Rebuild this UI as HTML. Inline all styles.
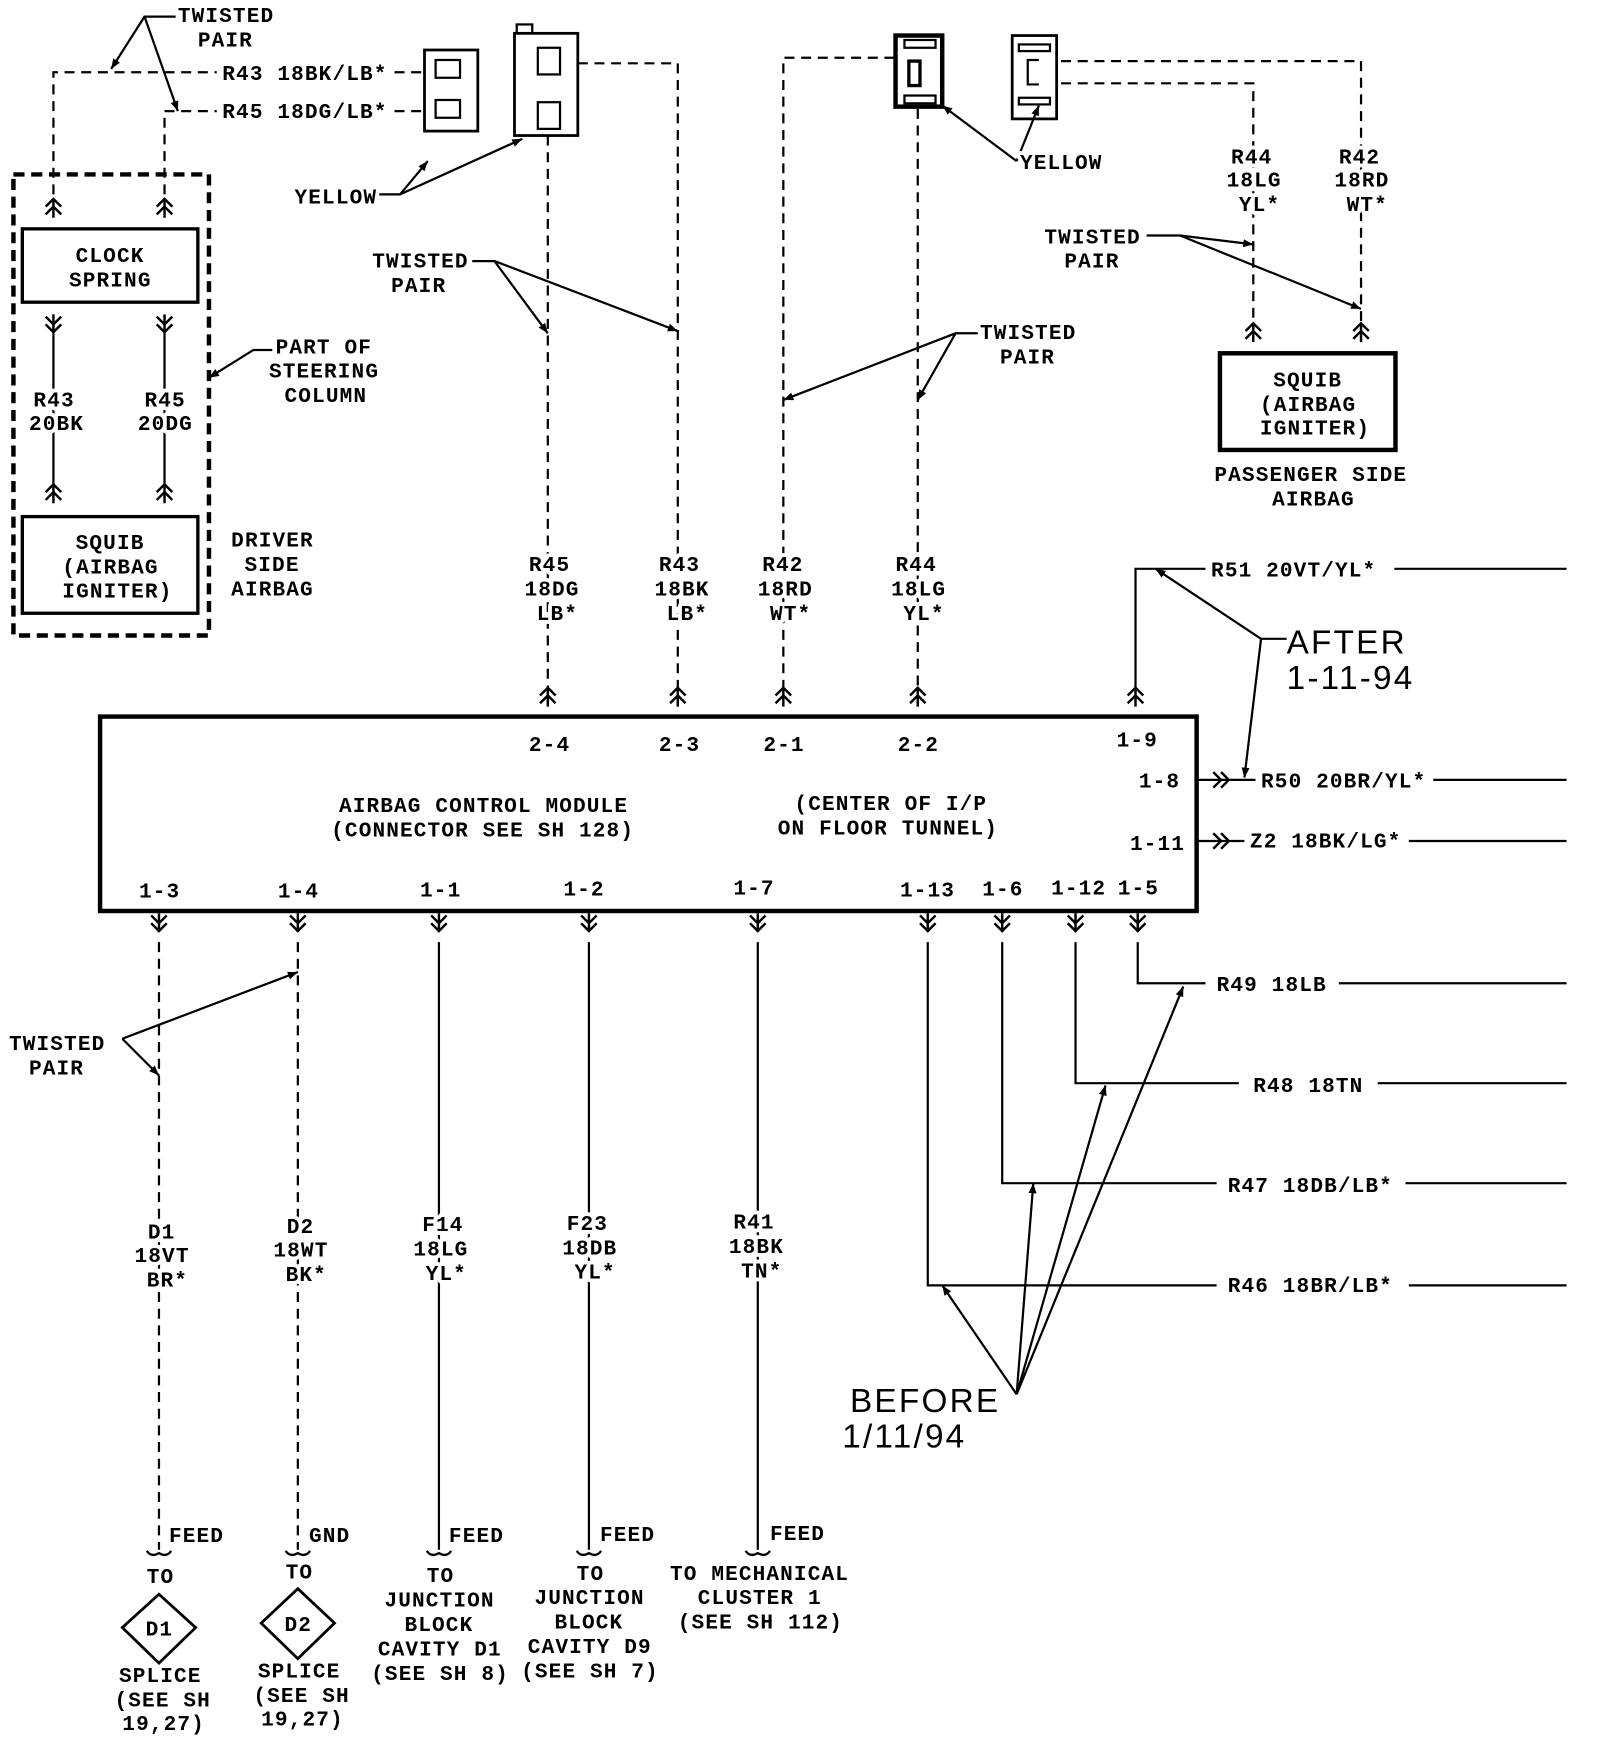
<!DOCTYPE html>
<html><head><meta charset="utf-8"><style>
html,body{margin:0;padding:0;background:#fff;}
svg{display:block;}
text{font-family:"Liberation Mono",monospace;font-weight:bold;font-size:19px;fill:#000;letter-spacing:1px;paint-order:stroke;stroke:#fff;stroke-width:7px;stroke-linejoin:round;}
.big{font-family:"Liberation Sans",sans-serif;font-weight:normal;font-size:30px;letter-spacing:2px;}
</style></head><body>
<svg width="1600" height="1752" viewBox="0 0 1440 1577" xmlns="http://www.w3.org/2000/svg">
<defs>
<marker id="a" viewBox="0 0 10 10" refX="10" refY="5" markerWidth="9" markerHeight="9" orient="auto" markerUnits="userSpaceOnUse"><path d="M0,1 L10,5 L0,9 z" fill="#000"/></marker>
<symbol id="up" overflow="visible"><path d="M-7,8 L0,1 L7,8 M-7,15 L0,8 L7,15 M0,1 L0,18" fill="none" stroke="#000" stroke-width="2.2"/></symbol>
<symbol id="dn" overflow="visible"><path d="M-7,2 L0,9 L7,2 M-7,9 L0,16 L7,9 M0,0 L0,17" fill="none" stroke="#000" stroke-width="2.2"/></symbol>
<symbol id="rt" overflow="visible"><path d="M0,-7 L7,0 L0,7 M7,-7 L14,0 L7,7" fill="none" stroke="#000" stroke-width="2.2"/></symbol>
</defs>
<g fill="none" stroke="#000" stroke-width="2">
<g stroke-dasharray="9,6">
<path d="M48,175 V65 H195"/><path d="M355,65 H385"/>
<path d="M148,175 V100 H195"/><path d="M355,100 H385"/>
<path d="M520,57 H610 V620"/><path d="M493,122 V620"/>
<path d="M805,52 H705 V620"/><path d="M826,98 V620"/>
<path d="M955,55 H1225 V290"/><path d="M955,75 H1128 V290"/>
<path d="M143,848 V1395"/><path d="M268,848 V1395"/>
</g>
<rect x="12" y="157" width="176" height="415" stroke-width="4" stroke-dasharray="10,6"/>
<rect x="20" y="206" width="158" height="66" stroke-width="3"/>
<rect x="20" y="465" width="158" height="87" stroke-width="3"/>
<path d="M48,300 V440 M148,300 V440"/>
<rect x="382" y="45" width="48" height="73" stroke-width="2.5"/>
<rect x="392" y="54" width="22" height="16"/><rect x="392" y="90" width="22" height="16"/>
<rect x="463" y="30" width="57" height="92" stroke-width="2.5"/>
<rect x="465" y="22" width="14" height="8"/>
<rect x="484" y="43" width="20" height="24"/><rect x="484" y="92" width="20" height="24"/>
<rect x="806" y="32" width="42" height="64" stroke-width="4"/>
<rect x="814" y="36" width="28" height="7"/><rect x="814" y="86" width="28" height="7"/>
<rect x="818" y="55" width="10" height="22" stroke-width="3"/>
<rect x="911" y="32" width="40" height="75" stroke-width="2.5"/>
<rect x="917" y="40" width="28" height="6"/><rect x="917" y="88" width="28" height="6"/>
<path d="M935,54 H925 V76 H935"/>
<rect x="1098" y="318" width="158" height="87" stroke-width="4"/>
<rect x="90" y="645" width="987" height="175" stroke-width="4"/>
<path d="M1022,620 V512 H1085 M1255,512 H1410"/>
<path d="M1077,702 H1130 M1290,702 H1410"/>
<path d="M1077,757 H1120 M1268,757 H1410"/>
<path d="M395,848 V1395 M530,848 V1395 M682,848 V1395"/>
<path d="M1024,848 V885 H1085 M1205,885 H1410"/>
<path d="M968,848 V975 H1115 M1240,975 H1410"/>
<path d="M902,848 V1065 H1095 M1265,1065 H1410"/>
<path d="M835,848 V1157 H1095 M1268,1157 H1410"/>
<path d="M132,1396 q4,6 11,2 q7,4 11,-2 M257,1396 q4,6 11,2 q7,4 11,-2 M384,1396 q4,6 11,2 q7,4 11,-2 M519,1396 q4,6 11,2 q7,4 11,-2 M671,1396 q4,6 11,2 q7,4 11,-2"/>
<path d="M143,1435 L176,1465 L143,1497 L110,1465 Z M268,1430 L301,1461 L268,1493 L235,1461 Z" stroke-width="2.5"/>
<g marker-end="url(#a)" stroke-width="2">
<path d="M158,15 H130 L100,62"/><path d="M130,15 L160,100"/>
<path d="M340,175 H360 L385,145"/><path d="M360,175 L470,125"/>
<path d="M425,235 H445 L493,300"/><path d="M445,235 L610,298"/>
<path d="M880,300 H860 L705,360"/><path d="M860,300 L826,360"/>
<path d="M915,145 L848,95"/><path d="M915,145 L935,95"/>
<path d="M1032,212 H1062 L1128,220"/><path d="M1062,212 L1225,278"/>
<path d="M245,315 H228 L188,340"/>
<path d="M1158,575 H1135 L1040,512"/><path d="M1135,575 L1120,700"/>
<path d="M110,935 L268,875"/><path d="M110,935 L143,968"/>
<path d="M915,1255 L848,1157"/><path d="M915,1255 L930,1065"/><path d="M915,1255 L995,977"/><path d="M915,1255 L1065,888"/>
</g>
</g>
<use href="#up" x="48" y="178"/><use href="#up" x="148" y="178"/>
<use href="#dn" x="48" y="283"/><use href="#dn" x="148" y="283"/>
<use href="#up" x="48" y="435"/><use href="#up" x="148" y="435"/>
<use href="#up" x="1128" y="290"/><use href="#up" x="1225" y="290"/>
<use href="#up" x="493" y="618"/><use href="#up" x="610" y="618"/><use href="#up" x="705" y="618"/><use href="#up" x="826" y="618"/><use href="#up" x="1022" y="618"/>
<use href="#dn" x="143" y="822"/><use href="#dn" x="268" y="822"/><use href="#dn" x="395" y="822"/><use href="#dn" x="530" y="822"/><use href="#dn" x="682" y="822"/><use href="#dn" x="835" y="822"/><use href="#dn" x="902" y="822"/><use href="#dn" x="968" y="822"/><use href="#dn" x="1024" y="822"/>
<use href="#rt" x="1092" y="702"/><use href="#rt" x="1092" y="757"/>
<text x="160" y="20">TWISTED</text><text x="178" y="42">PAIR</text>
<text x="200" y="72">R43 18BK/LB*</text><text x="200" y="106">R45 18DG/LB*</text>
<text x="265" y="183">YELLOW</text>
<text x="68" y="236">CLOCK</text><text x="62" y="258">SPRING</text>
<text x="248" y="318">PART OF</text><text x="242" y="340">STEERING</text><text x="256" y="362">COLUMN</text>
<text x="30" y="366">R43</text><text x="26" y="387">20BK</text>
<text x="130" y="366">R45</text><text x="124" y="387">20DG</text>
<text x="68" y="494">SQUIB</text><text x="56" y="516">(AIRBAG</text><text x="56" y="538">IGNITER)</text>
<text x="208" y="492">DRIVER</text><text x="220" y="514">SIDE</text><text x="208" y="536">AIRBAG</text>
<text x="335" y="241">TWISTED</text><text x="352" y="263">PAIR</text>
<text x="918" y="152">YELLOW</text>
<text x="882" y="305">TWISTED</text><text x="900" y="327">PAIR</text>
<text x="940" y="219">TWISTED</text><text x="958" y="241">PAIR</text>
<text x="1108" y="147">R44</text><text x="1104" y="168">18LG</text><text x="1115" y="190">YL*</text>
<text x="1205" y="147">R42</text><text x="1201" y="168">18RD</text><text x="1212" y="190">WT*</text>
<text x="1146" y="348">SQUIB</text><text x="1134" y="370">(AIRBAG</text><text x="1134" y="391">IGNITER)</text>
<text x="1093" y="433">PASSENGER SIDE</text><text x="1145" y="455">AIRBAG</text>
<text x="476" y="514">R45</text><text x="472" y="536">18DG</text><text x="483" y="558">LB*</text>
<text x="593" y="514">R43</text><text x="589" y="536">18BK</text><text x="600" y="558">LB*</text>
<text x="686" y="514">R42</text><text x="682" y="536">18RD</text><text x="693" y="558">WT*</text>
<text x="806" y="514">R44</text><text x="802" y="536">18LG</text><text x="813" y="558">YL*</text>
<text x="1090" y="519">R51 20VT/YL*</text>
<text class="big" x="1158" y="588">AFTER</text><text class="big" x="1158" y="620">1-11-94</text>
<text x="476" y="676">2-4</text><text x="593" y="676">2-3</text><text x="687" y="676">2-1</text><text x="808" y="676">2-2</text><text x="1005" y="672">1-9</text>
<text x="1025" y="709">1-8</text><text x="1135" y="709">R50 20BR/YL*</text>
<text x="1017" y="765">1-11</text><text x="1125" y="763">Z2 18BK/LG*</text>
<text x="305" y="731">AIRBAG CONTROL MODULE</text><text x="298" y="753">(CONNECTOR SEE SH 128)</text>
<text x="715" y="729">(CENTER OF I/P</text><text x="700" y="751">ON FLOOR TUNNEL)</text>
<text x="125" y="808">1-3</text><text x="250" y="808">1-4</text><text x="378" y="807">1-1</text><text x="507" y="806">1-2</text><text x="660" y="805">1-7</text><text x="810" y="807">1-13</text><text x="884" y="806">1-6</text><text x="946" y="805">1-12</text><text x="1006" y="805">1-5</text>
<text x="1095" y="892">R49 18LB</text><text x="1128" y="983">R48 18TN</text><text x="1105" y="1073">R47 18DB/LB*</text><text x="1105" y="1163">R46 18BR/LB*</text>
<text x="8" y="945">TWISTED</text><text x="26" y="967">PAIR</text>
<text x="133" y="1115">D1</text><text x="121" y="1136">18VT</text><text x="132" y="1158">BR*</text>
<text x="258" y="1110">D2</text><text x="246" y="1131">18WT</text><text x="257" y="1153">BK*</text>
<text x="380" y="1108">F14</text><text x="372" y="1130">18LG</text><text x="383" y="1152">YL*</text>
<text x="510" y="1107">F23</text><text x="506" y="1129">18DB</text><text x="517" y="1151">YL*</text>
<text x="660" y="1106">R41</text><text x="656" y="1128">18BK</text><text x="667" y="1150">TN*</text>
<text class="big" x="765" y="1271">BEFORE</text><text class="big" x="758" y="1303">1/11/94</text>
<text x="152" y="1388">FEED</text><text x="278" y="1388">GND</text><text x="404" y="1388">FEED</text><text x="540" y="1387">FEED</text><text x="693" y="1386">FEED</text>
<text x="132" y="1425">TO</text><text x="257" y="1421">TO</text>
<text x="131" y="1472">D1</text><text x="256" y="1468">D2</text>
<text x="107" y="1514">SPLICE</text><text x="103" y="1536">(SEE SH</text><text x="110" y="1557">19,27)</text>
<text x="232" y="1510">SPLICE</text><text x="228" y="1532">(SEE SH</text><text x="235" y="1553">19,27)</text>
<text x="384" y="1424">TO</text><text x="346" y="1446">JUNCTION</text><text x="364" y="1468">BLOCK</text><text x="340" y="1490">CAVITY D1</text><text x="334" y="1512">(SEE SH 8)</text>
<text x="519" y="1422">TO</text><text x="481" y="1444">JUNCTION</text><text x="499" y="1466">BLOCK</text><text x="475" y="1488">CAVITY D9</text><text x="469" y="1510">(SEE SH 7)</text>
<text x="603" y="1422">TO MECHANICAL</text><text x="628" y="1444">CLUSTER 1</text><text x="610" y="1466">(SEE SH 112)</text>
</svg>
</body></html>
